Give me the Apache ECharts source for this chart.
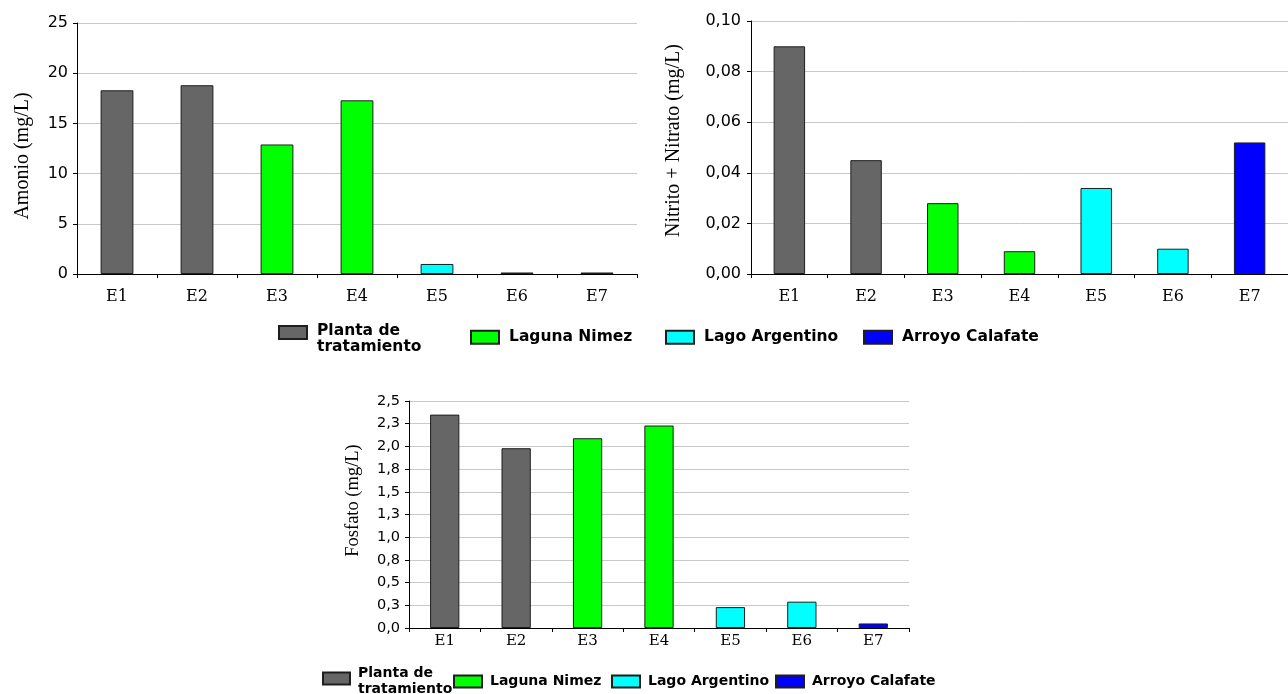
<!DOCTYPE html>
<html>
<head>
<meta charset="utf-8">
<script src="https://cdn.jsdelivr.net/npm/echarts@6/dist/echarts.min.js"></script>
<style>
  html, body { margin: 0; padding: 0; background: #ffffff; }
  #chart { width: 1288px; height: 694px; }
</style>
</head>
<body>
<div id="chart"></div>
<script>
// Sampling stations and the water body each one belongs to
const stations = ['E1', 'E2', 'E3', 'E4', 'E5', 'E6', 'E7'];
const groups = ['Planta de\ntratamiento', 'Laguna Nimez', 'Lago Argentino', 'Arroyo Calafate'];
const stationGroup = [0, 0, 1, 1, 2, 2, 3];
const groupColors = ['#666666', '#00ff00', '#00ffff', '#0000ff'];

// Measured concentrations (mg/L)
const amonio = [18.3, 18.8, 12.9, 17.3, 1.0, 0.15, 0.15];
const nitritoNitrato = [0.090, 0.045, 0.028, 0.009, 0.034, 0.010, 0.052];
const fosfato = [2.35, 1.98, 2.09, 2.23, 0.23, 0.29, 0.05];

// Y axis tick labels (decimal comma)
const amonioTicks = ['0', '5', '10', '15', '20', '25'];
const nitritoTicks = ['0,00', '0,02', '0,04', '0,06', '0,08', '0,10'];
const fosfatoTicks = ['0,0', '0,3', '0,5', '0,8', '1,0', '1,3', '1,5', '1,8', '2,0', '2,3', '2,5'];

const panels = [
  { values: amonio, ticks: amonioTicks, step: 5, title: 'Amonio (mg/L)',
    grid: { left: 77, top: 23, width: 560, height: 251 },
    nameGap: 44, namePad: [0, 15, 0, 0], nameSize: 20,
    tickSize: 16, tickMargin: 9, catSize: 16, catMargin: 15 },
  { values: nitritoNitrato, ticks: nitritoTicks, step: 0.02, title: 'Nitrito + Nitrato (mg/L)',
    grid: { left: 751, top: 21, width: 549, height: 253 },
    nameGap: 67, namePad: [0, 0, 0, 14], nameSize: 20,
    tickSize: 16, tickMargin: 10, catSize: 16, catMargin: 15 },
  { values: fosfato, ticks: fosfatoTicks, step: 0.25, title: 'Fosfato (mg/L)',
    grid: { left: 409, top: 401, width: 500, height: 227 },
    nameGap: 46, namePad: [0, 0, 0, 28], nameSize: 18.5,
    tickSize: 14.5, tickMargin: 9, catSize: 15, catMargin: 6 }
];

const grid = [], xAxis = [], yAxis = [], series = [];

panels.forEach((p, k) => {
  grid.push(Object.assign({ containLabel: false }, p.grid));
  xAxis.push({
    type: 'category',
    gridIndex: k,
    data: stations,
    axisLine: { show: true, lineStyle: { color: '#000000', width: 1 } },
    axisTick: { show: true, length: 4, lineStyle: { color: '#000000' } },
    axisLabel: { fontFamily: 'DejaVu Serif', fontSize: p.catSize, color: '#000000', margin: p.catMargin },
    splitLine: { show: false }
  });
  yAxis.push({
    type: 'value',
    gridIndex: k,
    min: 0,
    max: p.step * (p.ticks.length - 1),
    interval: p.step,
    name: p.title,
    nameLocation: 'middle',
    nameRotate: 90,
    nameGap: p.nameGap,
    nameTextStyle: { fontFamily: 'Liberation Serif', fontSize: p.nameSize, color: '#000000', padding: p.namePad },
    axisLine: { show: true, lineStyle: { color: '#000000', width: 1 } },
    axisTick: { show: true, length: 4, lineStyle: { color: '#000000' } },
    axisLabel: {
      fontFamily: 'DejaVu Sans', fontSize: p.tickSize, color: '#000000', margin: p.tickMargin,
      formatter: v => p.ticks[Math.round(v / p.step)]
    },
    splitLine: { show: true, lineStyle: { color: '#c8c8c8', width: 1 } }
  });
  groups.forEach((g, gi) => {
    series.push({
      type: 'bar',
      name: g,
      xAxisIndex: k,
      yAxisIndex: k,
      barWidth: '41%',
      barGap: '-100%',
      itemStyle: { color: groupColors[gi], borderColor: '#1e1e1e', borderWidth: 1 },
      data: p.values.map((v, i) => (stationGroup[i] === gi ? v : '-'))
    });
  });
});

// One legend box per group so each entry can sit where it belongs.
// A two-line name gets rows of unequal height so the swatch lines up
// with its first row.
function legendItem(gi, left, top, size, padLeft, iw, ih, rows) {
  const font = { fontFamily: 'DejaVu Sans', fontWeight: 'bold', fontSize: size, color: '#000000' };
  const textStyle = Object.assign({ padding: [0, 0, 0, padLeft] }, font);
  const item = {
    data: [groups[gi]],
    left: left,
    top: top,
    padding: 0,
    selectedMode: false,
    icon: 'rect',
    itemWidth: iw,
    itemHeight: ih,
    textStyle: textStyle
  };
  if (rows) {
    textStyle.rich = {
      r0: Object.assign({ lineHeight: rows[0] }, font),
      r1: Object.assign({ lineHeight: rows[1] }, font)
    };
    item.formatter = name => name.split('\n').map((s, i) => '{r' + i + '|' + s + '}').join('\n');
  } else {
    textStyle.lineHeight = size + 1;
  }
  return item;
}

const legend = [
  legendItem(0, 278, 322.5, 15.5, 5, 28, 13, [28, 4]),
  legendItem(1, 470, 329, 15.5, 5, 28, 13),
  legendItem(2, 665, 329, 15.5, 5, 28, 13),
  legendItem(3, 863, 329, 15.5, 5, 28, 13),
  legendItem(0, 322, 666.5, 14, 3, 27, 12, [22, 10]),
  legendItem(1, 453, 674, 14, 3, 28, 12),
  legendItem(2, 611, 674, 14, 3, 28, 12),
  legendItem(3, 775, 674, 14, 3, 28, 12)
];

const chart = echarts.init(document.getElementById('chart'), null, { renderer: 'canvas' });
chart.setOption({
  animation: false,
  backgroundColor: '#ffffff',
  grid: grid,
  xAxis: xAxis,
  yAxis: yAxis,
  legend: legend,
  series: series
});
</script>
</body>
</html>
